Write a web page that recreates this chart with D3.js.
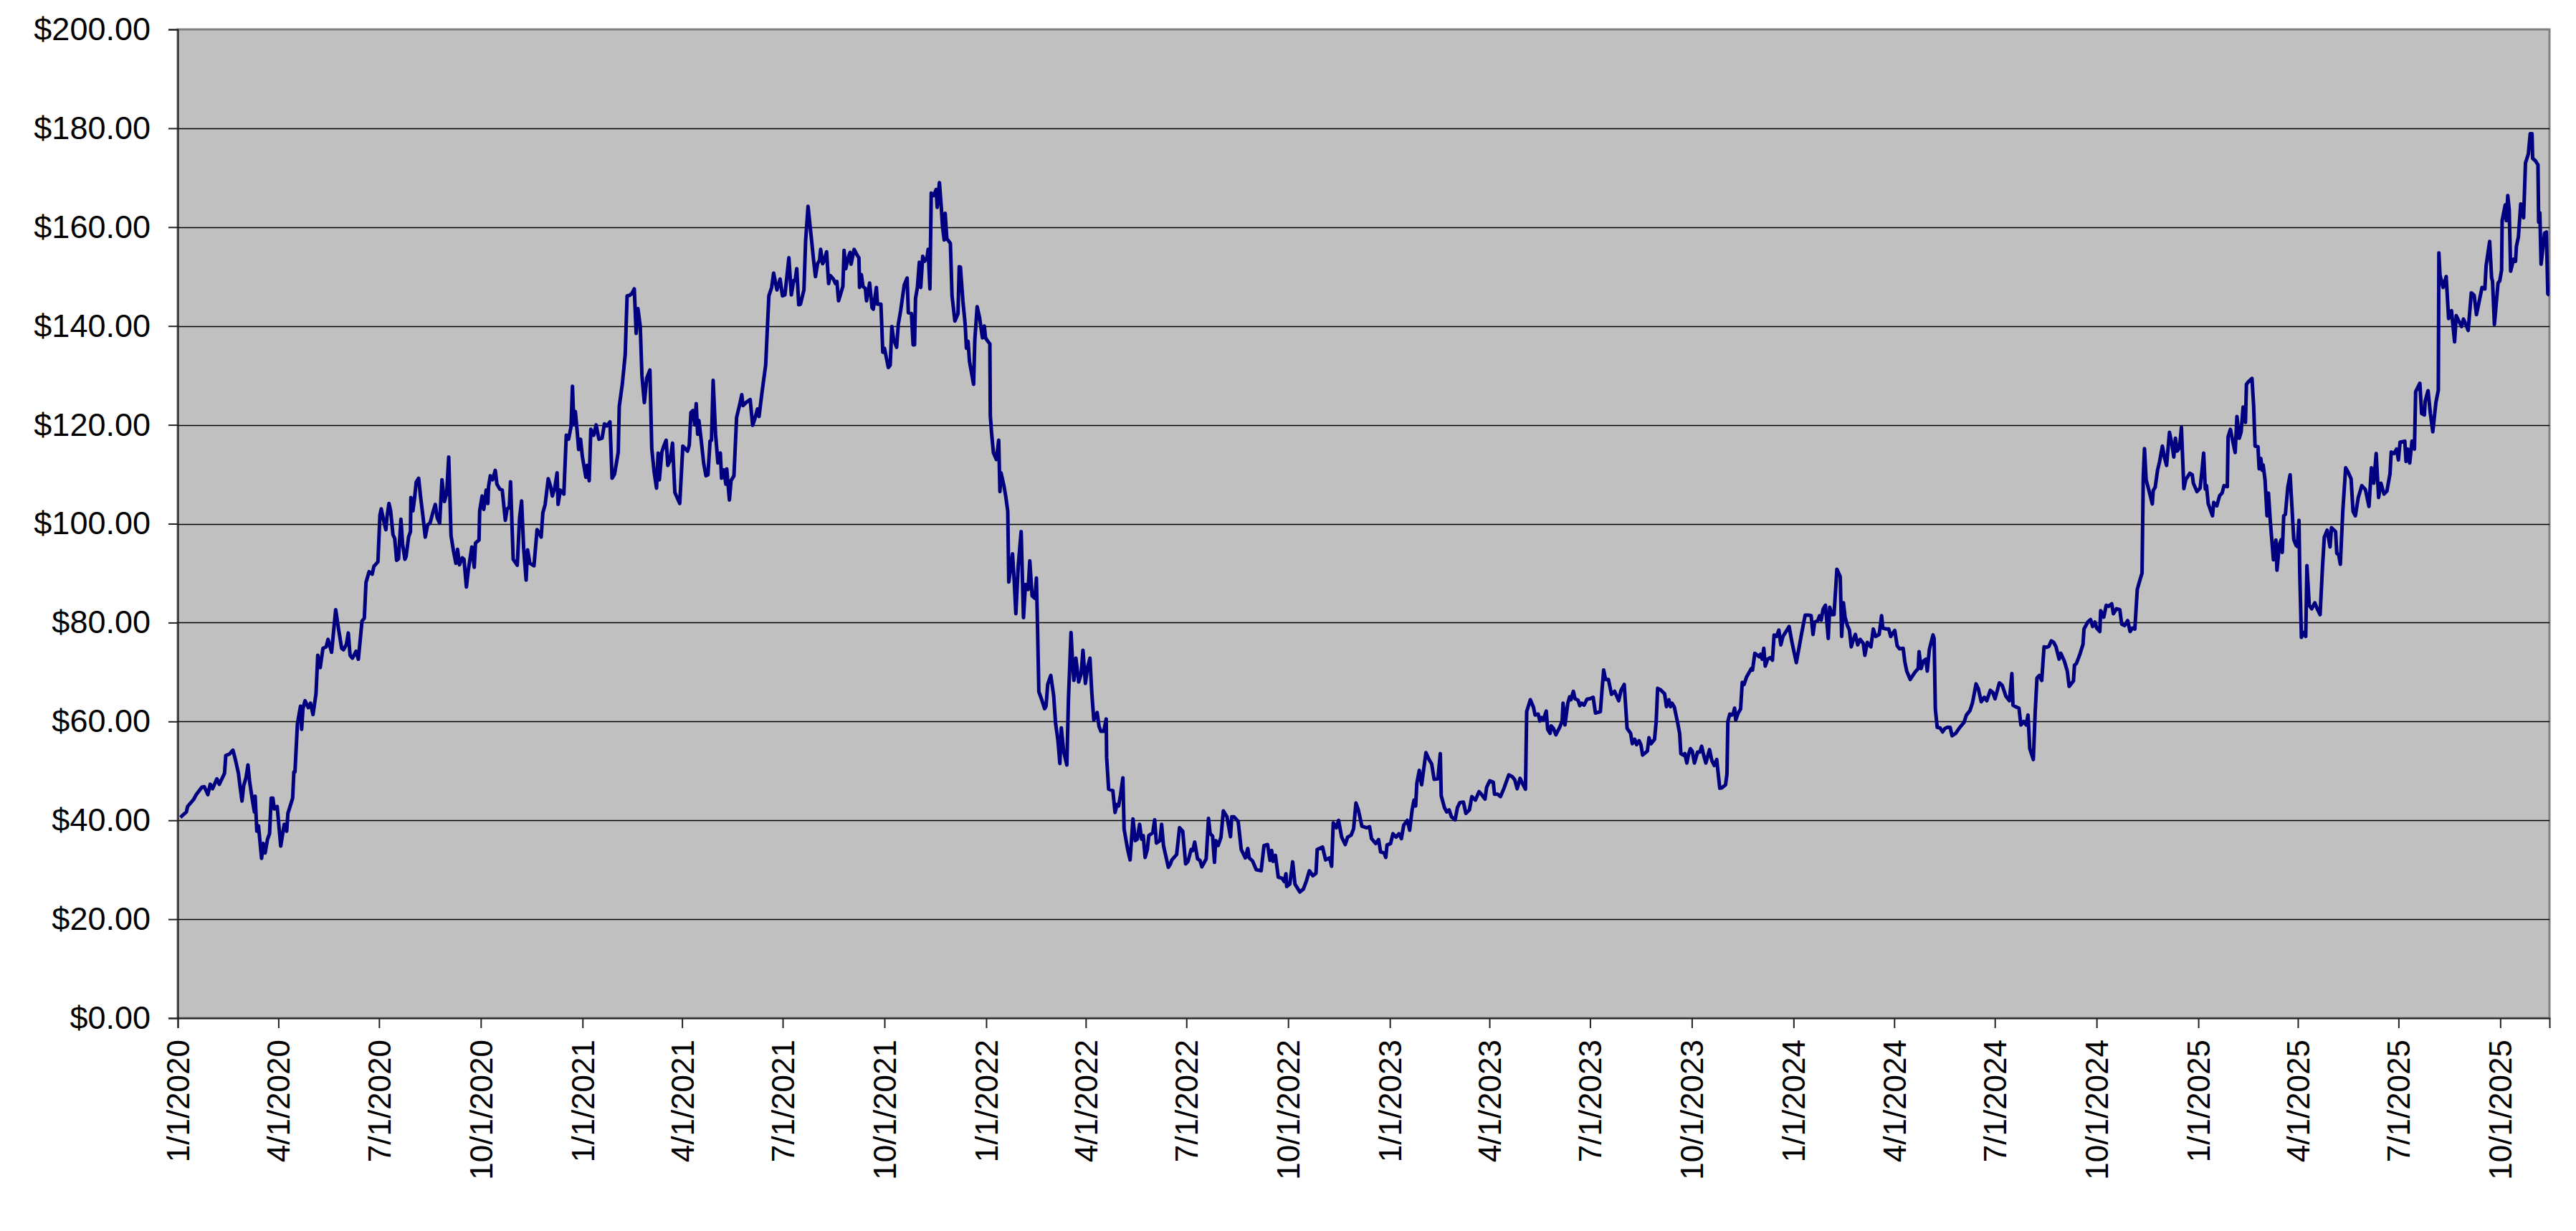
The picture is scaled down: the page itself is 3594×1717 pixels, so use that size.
<!DOCTYPE html>
<html>
<head>
<meta charset="utf-8">
<script src="https://cdn.jsdelivr.net/npm/d3@7"></script>
<style>
  html, body { margin: 0; padding: 0; background: #fff; }
  svg { display: block; }
</style>
</head>
<body>
<div id="chart"></div>
<script>
// [days since 1/1/2020, closing price]
let prices2020 = [
  [2.4, 40.6], [7.8, 41.7], [8.9, 42.8], [14.3, 44.2], [16.4, 45.1], [21.8, 46.7], [24, 46.8], [27.2, 45.2],
  [29.4, 47.3], [31.5, 46.4], [35.4, 48.4], [37.6, 47.3], [42.3, 49.5], [43.4, 53.1], [46.7, 53.4], [49.9, 54.2],
  [52.1, 52.3], [54.9, 49.5], [56.4, 46.7], [58.1, 43.9], [59.6, 47], [61.8, 48.7], [63.5, 51.2], [65, 47.8],
  [67.2, 44.5], [69.3, 41.7], [70, 44.9], [71.5, 37.8], [73, 38.9], [75.8, 32.3], [77.3, 35.3], [79, 33.4],
  [81.2, 36.2], [83, 37.3], [84.5, 44.5], [86, 44.5], [87.3, 42.3], [89.9, 42.8], [93.1, 34.8], [96.3, 39.2],
  [98.5, 37.8], [99.6, 41.4], [103.9, 44.5], [105, 49.8], [106, 49.8], [108.2, 59.5], [111, 63.1], [112, 58.4],
  [113.2, 62.6], [115.1, 64.2], [118, 62.8], [120, 63.7], [122.3, 61.4], [125, 65.6], [126.6, 73.4], [128.8, 70.9],
  [131.3, 74.8], [134.2, 75.1], [135.9, 76.6], [139.1, 74], [142.8, 82.6], [145.6, 78.4], [148.2, 74.8], [149.9, 74.5],
  [152.5, 75.6], [154.2, 77.9], [155.8, 73.4], [157.9, 72.8], [161.2, 74.2], [163.3, 72.6], [166.6, 80.3], [168.7, 80.9],
  [170.2, 88.1], [173, 90.3], [175.8, 89.8], [177.4, 91.4], [181, 92.3], [182.8, 101.7], [184, 103], [186.2, 100.6],
  [188.2, 98.8], [189.2, 101.4], [191, 104.1], [192.5, 102.6], [194.6, 97.8], [196.2, 97], [197.9, 92.6], [199.6, 92.9],
  [201.8, 100.9], [203.3, 95.9], [205.4, 92.8], [206.5, 93.4], [208.7, 97.3], [210.4, 98.4], [210.8, 105.3], [212.6, 102.6],
  [214.1, 105.1], [215.6, 108.4], [217.8, 109.2], [219.5, 105.6], [221.6, 101.7], [223.8, 97.3], [226, 99.8], [228.1, 100.1],
  [230.7, 102.3], [232.9, 103.9], [234.6, 101.2], [236.8, 100.1], [238.9, 108.9], [241.1, 104.5], [243.2, 106.2], [245, 113.5],
  [247.1, 97.6], [249.3, 94.5], [251.5, 92], [253, 94.8], [254.7, 91.7], [257.3, 93.1], [258.8, 92.8], [261, 87.2],
  [262.7, 90.6], [265.9, 95.3], [268.1, 91.2], [269.2, 96.1], [272.4, 96.7], [273, 102.6], [275.2, 105.6], [276.7, 102.9],
  [278.9, 106.8], [280.4, 104.1], [281, 107.5], [282.6, 109.7], [284.7, 108.9], [287.1, 110.8], [288.6, 108], [291.2, 107],
  [293.4, 106.8], [296.2, 100.7], [297.7, 102.9], [299.8, 103.4], [300.9, 108.5], [303.3, 92.8], [307, 91.6], [309.1, 101.2],
  [310.9, 104.6], [312.8, 94.9], [315, 88.6], [316.3, 94.7], [318.4, 92], [322.1, 91.5], [324.9, 98.8], [328.6, 97.3],
  [330.1, 102.2], [332.2, 103.9], [335, 109.1], [337.2, 107.5], [338.7, 105.6], [340.9, 107.2], [343, 110.3], [343.9, 103.9],
  [345.9, 106.8], [349.1, 106], [351.3, 117.9], [353.4, 117.1], [355.6, 119.6], [356.9, 127.8], [358.2, 120], [359.5, 122.7],
  [361, 119.1], [362.5, 115], [364.2, 117.1], [365.9, 113.5]
]

let prices2021 = [
  [369, 109.4], [370.3, 111.8], [372, 108.7], [373.5, 119.1], [376.1, 117.9], [378.3, 120], [380.8, 117.1], [383.7, 117.3],
  [385.8, 120.2], [388, 119.8], [390.8, 120.6], [392.7, 109.2], [394.9, 110], [398.3, 114.5], [399.2, 123.7], [402, 128.3],
  [404.6, 134.3], [406.3, 146.1], [408.5, 146.2], [410.7, 146.6], [412.8, 147.5], [414.5, 138.5], [416.1, 143.5], [418.2, 139.9],
  [419.7, 130], [421.9, 124.5], [424.1, 129.5], [426.9, 131.1], [428.6, 115.2], [430.8, 110.4], [432.9, 107.2], [434.4, 114.3],
  [435.5, 108.9], [437.7, 114.5], [439.8, 115.9], [441.6, 116.9], [443.1, 111.8], [445.2, 112.8], [447.4, 116.3], [449.5, 106.3],
  [453.9, 104.1], [456.7, 115.7], [461, 114.7], [462.5, 115.9], [464, 122.5], [465.7, 122.9], [467.5, 120], [468.8, 124.3],
  [470.1, 118.1], [471.2, 120.9], [473.3, 116.9], [475.5, 112.3], [477.6, 109.7], [479.4, 109.9], [481.3, 116.7], [482.6, 116.9],
  [484.1, 129], [486.3, 118.1], [488.4, 112.3], [490.6, 114.3], [491.7, 109.2], [493.8, 110.9], [495.6, 108], [496.4, 111.1],
  [498.8, 104.8], [500.3, 108.7], [502.9, 109.7], [505.3, 121.5], [507.9, 123.9], [510, 126.1], [511.1, 123.9], [514.3, 124.6],
  [517.6, 125.1], [519.8, 119.9], [521.9, 121.3], [524.1, 123.2], [525.6, 121.7], [528.4, 126.8], [531.6, 132.1], [533.2, 139.9],
  [534.5, 146.1], [537, 147.8], [538.8, 150.7], [540.3, 149], [541.8, 147.3], [544.6, 149.5], [546.8, 146.1], [549, 146.3],
  [552.6, 153.8], [554.8, 146.3], [556.9, 149.2], [558.2, 149.2], [559.7, 151.6], [561.5, 144.3], [563, 144.4], [566.2, 147.3],
  [567.7, 157.2], [569.9, 164.2], [572.7, 158.2], [574.8, 153.6], [576.6, 150], [578.5, 152.6], [580.3, 153.3], [581.3, 155.5],
  [583.1, 152.6], [584.6, 153.3], [586.7, 155], [588.5, 148.6], [590, 150.2], [592.8, 149.5], [594.7, 148.6], [596, 149],
  [597.5, 145.1], [601.4, 148], [602.5, 155.3], [604, 151.6], [606.2, 153.8], [607.9, 154.9], [608.8, 152.5], [611.6, 155.5],
  [614.4, 154.3], [615.9, 153.8], [616.5, 147.8], [618.1, 150.4], [619.6, 148], [621.7, 147.6], [622.8, 145.1], [625.6, 148.7],
  [627.8, 143.7], [628.9, 143.4], [631.7, 147.8], [632.7, 144.4], [635.8, 144.4], [637.5, 134.7], [639, 135.5], [642.5, 131.6],
  [644.2, 132.1], [645.7, 139.9], [647.2, 137.4], [650, 135.7], [651.5, 140.3], [653.7, 143.2], [656.9, 148.3], [659.5, 149.7],
  [660.6, 142.7], [663.4, 142.5], [664.9, 136.2], [666.2, 136.2], [667.1, 145.6], [668.8, 147.8], [670.5, 152.9], [671.8, 147.8],
  [673.6, 154.1], [675.3, 153.1], [677.5, 153.8], [678.5, 155.5], [680.1, 147.5], [681.3, 166.9], [683.5, 166.4], [685.7, 167.6],
  [686.7, 164], [688.7, 169], [690.4, 164], [691.5, 160.1], [693, 157.4], [693.9, 162.8], [695.4, 157.7], [698.6, 156.7],
  [700.1, 146.1], [702.7, 141], [705.5, 142.5], [706.6, 152], [707.7, 151.9], [709.9, 145.1], [712, 140.3], [713.1, 135.5],
  [714.6, 136.9], [715.9, 132.8], [719.6, 128.2], [720.7, 137.1], [722.8, 143.9], [725, 141.7], [727.6, 137.6], [729.3, 140],
  [730.4, 137.6]
]

let prices2022 = [
  [732.5, 136.9], [734.3, 136.4], [734.7, 121.9], [735.8, 118.5], [737.5, 114.4], [740.1, 113], [742.3, 116.9], [743.4, 106.5],
  [744.4, 110.3], [747, 107.7], [748.7, 105.5], [750.5, 102.5], [751.4, 88.2], [753.1, 91.1], [754.8, 93.9], [756.3, 88.5],
  [757.8, 81.8], [760, 91.6], [762.6, 98.4], [764.7, 81], [766.5, 87.7], [768.9, 86.7], [770.4, 92.5], [772.5, 85.4],
  [775.1, 84.9], [776.4, 89], [777.3, 80.2], [778.6, 66], [781.2, 64.4], [783.8, 62.6], [785.1, 63.1], [786.6, 67.5],
  [789.4, 69.3], [792, 65.2], [793.7, 59.7], [795.9, 56.1], [797.6, 51.5], [798.9, 58.7], [801, 54], [803.9, 51.2],
  [805.4, 64.7], [807.7, 78], [809.2, 71.4], [810.3, 68.3], [812.1, 72.8], [814.6, 68], [816.8, 69.6], [818.5, 74.4],
  [820.7, 67.7], [822.6, 70.9], [824.8, 72.8], [826.5, 65.7], [828.3, 60.3], [831.3, 61.8], [833, 59], [834.7, 58],
  [837.3, 58], [839.5, 60.5], [839.9, 52.7], [841.7, 46.3], [845.5, 46], [847.5, 41.6], [849.2, 43.2], [850.7, 42.9],
  [852.5, 45.2], [854.6, 48.6], [855.7, 38.2], [858.9, 34.1], [861.1, 32], [863.7, 40.3], [865.8, 35.9], [867.6, 36.2],
  [869.7, 39.2], [871.5, 36.2], [873, 36.9], [874.7, 32.5], [876.7, 34.1], [878, 36.9], [881.6, 37.5], [883.3, 40.1],
  [884.9, 35.4], [888.1, 35.9], [889.6, 39.2], [891.3, 34.9], [895.7, 30.5], [897.4, 31.1], [898.9, 32], [903.2, 33.1],
  [905.8, 38.5], [908.7, 37.8], [911.3, 31.2], [913.5, 31.7], [916.3, 34.1], [917.8, 33.9], [919.5, 35.6], [922.1, 32.2],
  [924.3, 31.9], [926, 30.6], [929.9, 32.2], [932, 40.4], [933.5, 37.3], [935.7, 36.8], [937.4, 31.5], [938.5, 35.9],
  [940.7, 34.9], [943.3, 36.6], [945.4, 41.9], [948.7, 40.7], [951.9, 36.7], [953, 40.7], [955.1, 40.7], [958.8, 39.8],
  [961.6, 34.1], [965.3, 32.4], [967.5, 34.3], [968.8, 32.4], [971.8, 31.8], [975.2, 30], [979.6, 29.8], [982.2, 34.9],
  [985.4, 35.1], [987.6, 31.9], [989.1, 33.9], [990.4, 31.7], [992.5, 32.9], [995.1, 28.5], [998.4, 28.3], [1000.5, 27.6],
  [1002, 29.2], [1002.7, 26.6], [1005.5, 27.1], [1008.1, 31.6], [1010.2, 27.1], [1014.6, 25.5], [1017.8, 26.1], [1020.6, 27.8],
  [1023.2, 29.8], [1026.4, 28.8], [1029.2, 29.3], [1030.3, 34.1], [1035.1, 34.6], [1037.9, 32], [1041.6, 32.4], [1043.3, 30.7],
  [1044.8, 39.5], [1047.6, 38.5], [1049.6, 40], [1052.4, 36.6], [1055.6, 35.1], [1057.8, 36.6], [1061, 37], [1063.2, 38.3],
  [1065.3, 43.5], [1067.5, 42.1], [1070.7, 38.8], [1075, 38.5], [1077.6, 38.7], [1079.4, 36.3], [1083.2, 35.3], [1085.8, 36.1],
  [1087.6, 33.6], [1090.8, 33.4], [1092.3, 32.5], [1093.4, 35]
]

let prices2023 = [
  [1096.6, 35.3], [1098.8, 37.3], [1101.6, 36.6], [1104.2, 37.3], [1106.4, 36.3], [1108.5, 39], [1111.8, 40], [1113.9, 38],
  [1116.1, 42.1], [1117.8, 44.1], [1119.3, 42.9], [1120.4, 47.5], [1122.6, 50.1], [1124.7, 47.2], [1128.6, 53.7], [1131.2, 52.4],
  [1133.8, 51.4], [1136, 48.3], [1139.4, 48.4], [1141.6, 53.5], [1142.4, 45], [1145.3, 42.6], [1147.4, 41.7], [1149.6, 42.1],
  [1151.7, 40.7], [1155, 40.1], [1157.1, 42.6], [1159.3, 43.6], [1162.5, 43.7], [1164.7, 41.4], [1167.9, 42.1], [1170.1, 44.8],
  [1173.3, 44.1], [1176.6, 45.8], [1178.7, 45.3], [1182, 44.3], [1183.5, 46.7], [1186.3, 48], [1189.5, 47.7], [1190.6, 45.3],
  [1193.4, 45.3], [1196, 44.8], [1199.2, 46.5], [1203.5, 49.2], [1206.8, 48.8], [1208.9, 48.2], [1211.1, 46.4], [1213.7, 48.5],
  [1216.5, 47.2], [1218.6, 46.3], [1219.7, 62], [1223, 64.4], [1225.8, 62.9], [1227.3, 61.3], [1230.1, 61.5], [1231.6, 60.1],
  [1233.1, 60.8], [1234.8, 60.3], [1237.4, 62.1], [1238.7, 58.4], [1240.9, 57.6], [1241.8, 59.1], [1243.9, 58.6], [1246.1, 57.3],
  [1249.5, 58.8], [1251.7, 60], [1252.6, 63.7], [1254.3, 59.3], [1256.9, 63.7], [1258.6, 65], [1259.7, 64.4], [1261.9, 66.1],
  [1263.4, 64.6], [1266.2, 64.3], [1267.7, 63.2], [1269.4, 63.7], [1271.6, 63.3], [1274.2, 64.5], [1277, 64.6], [1279.8, 64.9],
  [1281.9, 61.7], [1286.3, 62], [1287.8, 66.3], [1289.3, 70.4], [1291, 68.5], [1293.6, 68.5], [1294.9, 67.1], [1296.4, 65.5],
  [1299.2, 66.1], [1302.9, 64.2], [1305, 66.3], [1307.9, 67.5], [1310.5, 58.6], [1313.7, 57.6], [1315.2, 55.5], [1317.4, 56.4],
  [1319.1, 55.3], [1321.3, 56.1], [1323, 55.3], [1324.5, 53.2], [1328.8, 54], [1330.3, 56.7], [1332.1, 55.5], [1335.3, 56.4],
  [1336.8, 60], [1338.1, 66.7], [1340.7, 66.4], [1344.4, 65.6], [1346.1, 63], [1348.3, 64.4], [1349.8, 63], [1351.1, 63.7],
  [1353.2, 62.9], [1356.3, 59.6], [1358, 57.6], [1359.1, 53.5], [1361.2, 53.2], [1362.7, 53.5], [1364.5, 51.6], [1366, 53.3],
  [1367.7, 54.5], [1369.4, 54], [1371.4, 51.6], [1374.2, 53.8], [1376.3, 53.8], [1377.9, 55], [1379.6, 53.3], [1381.7, 51.6],
  [1385, 54.3], [1387.1, 52.1], [1389.3, 51.1], [1391.5, 52.3], [1394.3, 46.5], [1396.4, 46.6], [1399.5, 47.2], [1400.8, 49.4],
  [1401.6, 60], [1403.4, 61.5], [1405.1, 61.3], [1406.6, 61.7], [1407.7, 62.7], [1408.7, 60.3], [1410.9, 61.7], [1413.1, 62.5],
  [1414.6, 67.9], [1416.3, 67.5], [1418.5, 69], [1421.1, 70], [1422.8, 70.7], [1423.9, 70.4], [1426, 73.8], [1428.3, 73.4],
  [1429.8, 73.1], [1431.1, 73.6], [1432.6, 72.6], [1434.1, 74.8], [1435.4, 71.2], [1437.6, 72.6], [1439.7, 72.9], [1441.9, 72.4],
  [1443.4, 77.5], [1445.6, 77.2], [1447.7, 78.5], [1449.5, 75.5], [1451.4, 77.2], [1454.2, 78.2], [1457, 79.2], [1459.6, 76]
]

let prices2024 = [
  [1463.5, 71.9], [1466.1, 75.1], [1468.2, 77.7], [1471.5, 81.5], [1474.7, 81.5], [1476.9, 81.4], [1478.6, 77.6], [1480.1, 80.1],
  [1482.9, 80.4], [1484.5, 81.4], [1486, 80.5], [1487.7, 82.7], [1489.8, 83.5], [1492.4, 76.8], [1493.7, 83.1], [1495.9, 81.6],
  [1497.6, 81.6], [1500.2, 90.8], [1503.2, 89.3], [1504.5, 77.2], [1506.1, 84], [1507.6, 81.1], [1509.7, 79.4], [1511.5, 78.5],
  [1513.2, 75.1], [1514.7, 76.3], [1516.9, 77.6], [1519, 75.5], [1521.2, 76.6], [1524, 75.8], [1525.5, 73.4], [1527.7, 76],
  [1530.9, 75.1], [1533.1, 78.7], [1535.2, 77.2], [1538.4, 77.6], [1540.6, 81.4], [1541.7, 78.9], [1544.9, 78.7], [1547.1, 78.7],
  [1548.8, 77.2], [1552.5, 78.4], [1554.7, 75.3], [1556.8, 74.7], [1560.1, 74.8], [1561.6, 72.1], [1563.3, 70.2], [1566.5, 68.5],
  [1570.9, 70], [1573.7, 70.7], [1574.5, 74.1], [1576.3, 70.7], [1578.4, 72.2], [1580.6, 72.6], [1581.9, 70.2], [1583.8, 74.6],
  [1587.1, 77.5], [1588.1, 76.8], [1589.2, 62.5], [1590.9, 58.8], [1593.5, 58.7], [1595.7, 57.9], [1597.9, 58.6], [1600, 58.8],
  [1602.6, 58.8], [1604.3, 57.1], [1607.6, 57.6], [1611.3, 58.8], [1615.1, 59.8], [1617.3, 61.3], [1620.5, 62.2], [1622.7, 63.7],
  [1624.2, 65.4], [1626, 67.6], [1628.1, 66.6], [1630.7, 64], [1633.5, 64.9], [1635.7, 64.2], [1638.9, 66.3], [1641.1, 65.9],
  [1643.2, 64.6], [1647.1, 67.8], [1649.7, 67.3], [1653, 65.1], [1656.2, 64.2], [1658.4, 69.7], [1659.4, 63.3], [1661.6, 63],
  [1664.8, 62.7], [1666.6, 59.3], [1669.1, 60], [1671.3, 59.3], [1673, 61.3], [1674.6, 54.5], [1677.8, 52.3], [1679.5, 62],
  [1681.1, 68.8], [1683.2, 69.3], [1685.4, 68.3], [1687.5, 75.1], [1689.7, 75], [1691.9, 75.2], [1694, 76.3], [1696.2, 76],
  [1698.3, 75.1], [1701.1, 72.6], [1702.6, 73.8], [1705.9, 72.2], [1708.5, 70.2], [1710.2, 67.1], [1714.1, 68.2], [1715, 71.4],
  [1716.7, 71.7], [1719.9, 73.6], [1722.7, 75.6], [1723.6, 78.7], [1727, 80.1], [1729.6, 80.6], [1731.4, 79.2], [1733.5, 80.1],
  [1735.1, 78.9], [1737.9, 78.2], [1738.7, 82.4], [1741.5, 81.1], [1743.7, 83.5], [1745.8, 83.3], [1748.7, 83.8], [1750.2, 81.8],
  [1753, 82.8], [1756, 82.6], [1757.7, 79.7], [1760.3, 79.4], [1763.1, 80.4], [1765.3, 78.2], [1767.4, 78.9], [1769.6, 78.7],
  [1771.8, 86.7], [1773.9, 88.4], [1776.1, 90], [1777.2, 109.4], [1778.3, 115.2], [1779.8, 108.9], [1782.6, 106.5], [1785.4, 104],
  [1786.2, 106.7], [1788, 107.4], [1790.1, 110.8], [1791.9, 112.5], [1794.5, 115.7], [1796.6, 113.2], [1798.3, 111.8], [1800.9, 118.5],
  [1803.1, 116.1], [1804.8, 113.5], [1806.3, 117.3], [1807.9, 114.7], [1810, 115.4], [1811.7, 119.5], [1813.9, 107.1], [1815.6, 108.9],
  [1819.3, 110.2], [1821.5, 109.9], [1822.5, 108.2], [1825.8, 106.5]
]

let prices2025 = [
  [1828.6, 107.2], [1830.1, 110.3], [1831.8, 114.3], [1833.3, 107], [1834.4, 107.7], [1835.9, 104.1], [1839.8, 101.6], [1840.9, 104.3],
  [1843.7, 103.6], [1846.3, 105.7], [1848.5, 106.2], [1850.2, 107.7], [1853.2, 107.5], [1853.9, 117.6], [1856, 119.1], [1858.2, 116.6],
  [1860.3, 114.4], [1861.9, 121.7], [1864, 117.3], [1865.7, 118.6], [1867.5, 123.6], [1869.6, 120.5], [1870.5, 128.2], [1872.2, 128.7],
  [1875.5, 129.4], [1877, 123.9], [1878.3, 115.7], [1880.9, 115.6], [1882, 111.1], [1883.5, 113.2], [1884.8, 110.8], [1885.6, 111.9],
  [1887.3, 108.9], [1889.1, 101.6], [1890.4, 106.2], [1892.1, 100.4], [1894.9, 92.7], [1897.1, 96.7], [1898.1, 90.6], [1900.3, 95.8],
  [1902, 96.8], [1902.9, 94.2], [1904.2, 101.6], [1905.7, 101.9], [1907.9, 107.4], [1910, 109.9], [1911.1, 105.5], [1913.3, 96.8],
  [1915.4, 95.6], [1916.5, 95.4], [1918, 100.7], [1918.7, 90], [1920.2, 77], [1922, 78], [1924.1, 77.2], [1925.2, 91.5],
  [1927.3, 83.5], [1929.5, 82.8], [1932.3, 84], [1934.9, 82.6], [1937.1, 81.6], [1939.2, 91], [1940.9, 97.3], [1943.5, 98.7],
  [1946.1, 95.3], [1947.4, 99.2], [1951.1, 98.4], [1952.2, 94], [1953.9, 93.7], [1955.4, 91.8], [1957.6, 102.5], [1960.2, 111.3],
  [1962.5, 110.4], [1965.1, 109.1], [1966.9, 102.5], [1969, 101.6], [1971.6, 105.3], [1974.8, 107.7], [1978.1, 106.9], [1981.3, 103.5],
  [1983.5, 111.3], [1985.6, 108.2], [1987.8, 114.2], [1990, 105.3], [1992.1, 108.2], [1994.9, 106], [1997.5, 106.6], [2000.3, 110.1],
  [2001.4, 114.5], [2004, 114.2], [2006.2, 115.1], [2007.9, 112.9], [2009.4, 116.5], [2013.7, 116.7], [2014.8, 112.6], [2016.5, 115.1],
  [2018.1, 112.3], [2020.2, 116.7], [2022.4, 115.1], [2023.5, 126.7], [2027.3, 128.4], [2028.9, 122.3], [2031.4, 122], [2032.1, 124.8],
  [2034.7, 126.9], [2036.8, 122.3], [2039, 118.6], [2041.8, 124.5], [2044, 127], [2044.5, 154.8], [2045.5, 150.3], [2048.3, 147.8],
  [2051.1, 150], [2053.3, 141.5], [2055.9, 143.1], [2058.7, 136.8], [2060.2, 142.1], [2062.8, 140.9], [2065, 139.9], [2066.7, 141.4],
  [2068.9, 140.3], [2071, 139.1], [2073.8, 146.7], [2076.4, 146.2], [2078.5, 142.3], [2080.7, 144.7], [2083.5, 147.8], [2086.1, 147.5],
  [2087.2, 152.2], [2090.4, 157.1], [2092.2, 149.7], [2093, 149.1], [2094.7, 140.3], [2098, 148.7], [2099.5, 149.1], [2101.2, 151.3],
  [2101.7, 161.3], [2104.5, 164.5], [2105.5, 161.3], [2106.8, 166.4], [2108.1, 163.5], [2109.4, 151.1], [2112, 153.5], [2113.8, 153.1],
  [2114.6, 156.1], [2116.4, 158], [2118.5, 164.7], [2121.1, 161.9], [2122.8, 173], [2125.4, 174.8], [2127.1, 178.9], [2128.7, 178.9],
  [2129.3, 173.9], [2131.5, 173.5], [2134.1, 172.6], [2134.7, 161], [2135.8, 162.9], [2136.9, 152.5], [2140.1, 158.8], [2141.7, 159],
  [2143, 146.5], [2144.5, 146.2]
]

let yTicks = [0, 20, 40, 60, 80, 100, 120, 140, 160, 180, 200]

let width = 3594
let height = 1717
let margin = { top: 41, left: 248, right: 37, bottom: 297 }
let plotW = width - margin.left - margin.right
let plotH = height - margin.top - margin.bottom

let start = Date.UTC(2020, 0, 1)
let toDate = d => new Date(start + d * 864e5)

let data = [prices2020, prices2021, prices2022, prices2023, prices2024, prices2025]
  .flat()
  .map(([d, p]) => ({ date: toDate(d), price: p }))

let svg = d3
  .select('#chart')
  .append('svg')
  .attr('width', width)
  .attr('height', height)
  .append('g')
  .attr('transform', 'translate(' + margin.left + ',' + margin.top + ')')

let xScale = d3
  .scaleUtc()
  .domain([new Date(start), data[data.length - 1].date])
  .range([0, plotW])

let yScale = d3.scaleLinear().domain([0, 200]).range([plotH, 0])

// plot area
svg
  .append('rect')
  .attr('width', plotW)
  .attr('height', plotH)
  .attr('fill', '#C0C0C0')
  .attr('stroke', '#808080')
  .attr('stroke-width', 3)

// gridlines
svg
  .selectAll('.grid')
  .data(yTicks.filter(d => d > 0 && d < 200))
  .enter()
  .append('line')
  .attr('class', 'grid')
  .attr('x1', 0)
  .attr('x2', plotW)
  .attr('y1', d => Math.round(yScale(d)) + 0.5)
  .attr('y2', d => Math.round(yScale(d)) + 0.5)
  .attr('stroke', '#000')
  .attr('stroke-width', 1.6)

svg
  .append('clipPath')
  .attr('id', 'clip')
  .append('rect')
  .attr('width', plotW)
  .attr('height', plotH)

let line = d3
  .line()
  .x(d => xScale(d.date))
  .y(d => yScale(d.price))

svg
  .append('path')
  .datum(data)
  .attr('clip-path', 'url(#clip)')
  .attr('d', line)
  .attr('fill', 'none')
  .attr('stroke', '#000080')
  .attr('stroke-width', 5)
  .attr('stroke-linejoin', 'round')

// y axis
let yAxis = d3
  .axisLeft(yScale)
  .tickValues(yTicks)
  .tickSize(13)
  .tickPadding(25)
  .tickFormat(d3.format('$,.2f'))

svg
  .append('g')
  .call(yAxis)
  .call(g => g.select('.domain').attr('stroke', '#222').attr('stroke-width', 2))
  .call(g => g.selectAll('.tick line').attr('stroke', '#222').attr('stroke-width', 2))
  .call(g =>
    g
      .selectAll('.tick text')
      .attr('font-family', '"Liberation Sans", Arial, sans-serif')
      .attr('font-size', '45px')
      .attr('fill', '#000')
  )

// x axis, quarterly ticks
let xAxis = d3
  .axisBottom(xScale)
  .ticks(d3.utcMonth.every(3))
  .tickSize(14)
  .tickFormat(d3.utcFormat('%-m/%-d/%Y'))

svg
  .append('g')
  .attr('transform', 'translate(0,' + plotH + ')')
  .call(xAxis)
  .call(g => g.select('.domain').attr('stroke', '#222').attr('stroke-width', 2))
  .call(g => g.selectAll('.tick line').attr('stroke', '#222').attr('stroke-width', 2))
  .call(g =>
    g
      .selectAll('.tick text')
      .attr('font-family', '"Liberation Sans", Arial, sans-serif')
      .attr('font-size', '44px')
      .attr('fill', '#000')
      .attr('text-anchor', 'end')
      .attr('transform', 'translate(0,30) rotate(-90)')
      .attr('x', 0)
      .attr('y', 0)
      .attr('dy', '0.35em')
  )
</script>
</body>
</html>
